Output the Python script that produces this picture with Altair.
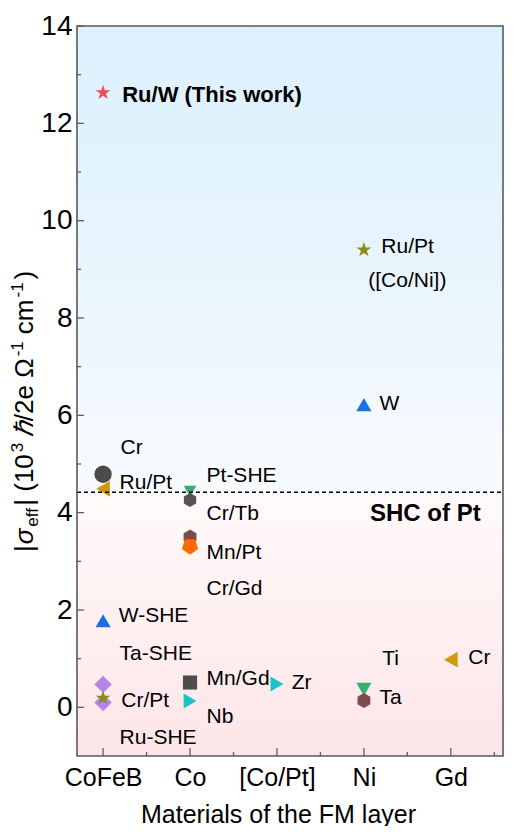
import altair as alt
import pandas as pd

# ---------------- data ----------------
categories = ["CoFeB", "Co", "[Co/Pt]", "Ni", "Gd"]

# measured points: FM layer, |sigma_eff| value, marker style key
pt_fm = ["CoFeB", "CoFeB", "CoFeB", "CoFeB", "CoFeB", "CoFeB", "CoFeB",
         "Co", "Co", "Co", "Co", "Co", "Co",
         "[Co/Pt]",
         "Ni", "Ni", "Ni", "Ni",
         "Gd"]
pt_val = [12.63, 4.79, 4.49, 1.78, 0.47, 0.10, 0.19,
          4.44, 4.26, 3.50, 3.31, 0.51, 0.13,
          0.48,
          9.40, 6.22, 0.37, 0.14,
          0.98]
pt_style = ["star_red", "circle_gray", "tri_left_gold", "tri_up_blue", "diamond_purple", "diamond_purple", "star_olive",
            "tri_down_green", "hex_gray", "hex_brown", "pent_orange", "square_gray", "tri_right_cyan",
            "tri_right_cyan",
            "star_olive_big", "tri_up_blue", "tri_down_green_big", "hex_brown",
            "tri_left_gold"]

# annotation labels (data coordinates)
lab_text = ["Cr", "Ru/Pt", "W-SHE", "Ta-SHE", "Cr/Pt", "Ru-SHE",
            "Pt-SHE", "Cr/Tb", "Mn/Pt", "Cr/Gd", "Mn/Gd", "Nb",
            "Zr", "Ru/Pt", "([Co/Ni])", "W", "Ti", "Ta", "Cr"]
lab_x = [1.20, 1.19, 1.18, 1.19, 1.21, 1.19,
         2.19, 2.19, 2.19, 2.19, 2.19, 2.19,
         3.17, 4.20, 4.05, 4.18, 4.21, 4.18, 5.20]
lab_y = [5.33, 4.61, 1.87, 1.09, 0.14, -0.62,
         4.76, 3.97, 3.17, 2.43, 0.58, -0.19,
         0.49, 9.45, 8.77, 6.24, 0.99, 0.19, 1.01]

bold_text = ["Ru/W (This work)", "SHC of Pt"]
bold_x = [1.22, 4.07]
bold_y = [12.58, 3.97]
bold_size = [22, 24]

shc_pt = 4.42
x_domain = [0.7, 5.6]
y_domain = [-1, 14]
y_major = [0, 2, 4, 6, 8, 10, 12, 14]
y_minor = [1, 3, 5, 7, 9, 11, 13]
x_major = [1, 2, 3, 4, 5]
x_minor = [1.5, 2.5, 3.5, 4.5, 5.5]

# ---------------- styles ----------------
STAR = "M0,-1L0.2245,-0.309L0.951,-0.309L0.363,0.118L0.588,0.809L0,0.382L-0.588,0.809L-0.363,0.118L-0.951,-0.309L-0.2245,-0.309Z"
HEX = "M0,-1L0.866,-0.5L0.866,0.5L0,1L-0.866,0.5L-0.866,-0.5Z"
PENT_DOWN = "M0,1L0.951,0.309L0.588,-0.809L-0.588,-0.809L-0.951,0.309Z"

styles = {
    "star_red": (STAR, "#f24d55", 250),
    "circle_gray": ("circle", "#4b4b4b", 300),
    "tri_left_gold": ("triangle-left", "#cf9b0c", 250),
    "tri_up_blue": ("triangle-up", "#1e6fe0", 230),
    "diamond_purple": ("diamond", "#b784e8", 300),
    "star_olive": (STAR, "#8b8b1c", 230),
    "star_olive_big": (STAR, "#8b8b1c", 250),
    "tri_down_green": ("triangle-down", "#33b06e", 160),
    "tri_down_green_big": ("triangle-down", "#33b06e", 230),
    "hex_gray": (HEX, "#555555", 200),
    "hex_brown": (HEX, "#7d4b4b", 220),
    "pent_orange": (PENT_DOWN, "#ff6a00", 290),
    "square_gray": ("square", "#4d4d4d", 200),
    "tri_right_cyan": ("triangle-right", "#1cc3c6", 220),
}

FONT = "Liberation Sans"
W, H = 426, 730

pts = pd.DataFrame({
    "x": [categories.index(c) + 1 for c in pt_fm],
    "y": pt_val,
    "shape": [styles[s][0] for s in pt_style],
    "color": [styles[s][1] for s in pt_style],
    "size": [styles[s][2] for s in pt_style],
    "order": list(range(len(pt_val))),
})
labs = pd.DataFrame({"t": lab_text, "x": lab_x, "y": lab_y})
bolds = pd.DataFrame({"t": bold_text, "x": bold_x, "y": bold_y, "s": bold_size})

xs = alt.Scale(domain=x_domain, nice=False, zero=False)
ys = alt.Scale(domain=y_domain, nice=False, zero=False)

label_expr = "['', 'CoFeB', 'Co', '[Co/Pt]', 'Ni', 'Gd'][datum.value]"
x_axis = alt.Axis(values=x_major, labelExpr=label_expr, ticks=False, domain=False, grid=False,
                  labelFont=FONT, labelFontSize=25, labelColor="black", labelPadding=9,
                  labelOverlap=False, labelFlush=False,
                  title="Materials of the FM layer", titleFont=FONT, titleFontSize=25,
                  titleFontWeight="normal", titleColor="black", titleX=201, titleY=66,
                  titleBaseline="alphabetic")
y_axis = alt.Axis(values=y_major, ticks=False, domain=False, grid=False,
                  labelFont=FONT, labelFontSize=28, labelColor="black", labelPadding=5,
                  labelOverlap=False, labelFlush=False, title="")


def X(f):
    return alt.X(f, type="quantitative", scale=xs, axis=x_axis)


def Y(f):
    return alt.Y(f, type="quantitative", scale=ys, axis=y_axis)


blue_grad = alt.Gradient(gradient="linear", x1=0, x2=0, y1=0, y2=1,
                         stops=[alt.GradientStop(color="#ddf1fd", offset=0),
                                alt.GradientStop(color="#e6f4fd", offset=0.45),
                                alt.GradientStop(color="#f8fbfe", offset=1)])
pink_grad = alt.Gradient(gradient="linear", x1=0, x2=0, y1=0, y2=1,
                         stops=[alt.GradientStop(color="#fffafa", offset=0),
                                alt.GradientStop(color="#fde5e8", offset=1)])

bg_blue = alt.Chart(pd.DataFrame({"x": [x_domain[0]], "x2": [x_domain[1]], "y": [shc_pt], "y2": [y_domain[1]]})) \
    .mark_rect(fill=blue_grad, strokeWidth=0).encode(x=X("x"), x2="x2", y=Y("y"), y2="y2")
bg_pink = alt.Chart(pd.DataFrame({"x": [x_domain[0]], "x2": [x_domain[1]], "y": [y_domain[0]], "y2": [shc_pt]})) \
    .mark_rect(fill=pink_grad, strokeWidth=0).encode(x=X("x"), x2="x2", y=Y("y"), y2="y2")

points = alt.Chart(pts).mark_point(filled=True, opacity=1, strokeWidth=0).encode(
    x=X("x"), y=Y("y"),
    shape=alt.Shape("shape:N", scale=None),
    color=alt.Color("color:N", scale=None),
    size=alt.Size("size:Q", scale=None),
    order=alt.Order("order:Q"),
)

dash = alt.Chart(pd.DataFrame({"x": [x_domain[0]], "x2": [x_domain[1]], "y": [shc_pt]})) \
    .mark_rule(color="black", strokeWidth=1.5, strokeDash=[4, 3]).encode(x=X("x"), x2="x2", y=Y("y"))

labels = alt.Chart(labs).mark_text(align="left", baseline="middle", font=FONT, fontSize=21, color="black") \
    .encode(x=X("x"), y=Y("y"), text="t:N")
blabels = alt.Chart(bolds).mark_text(align="left", baseline="middle", font=FONT, fontWeight="bold", color="black") \
    .encode(x=X("x"), y=Y("y"), text="t:N", size=alt.Size("s:Q", scale=None))

# inward tick marks
yt_major = alt.Chart(pd.DataFrame({"v": y_major})).mark_rule(color="#606060", strokeWidth=1.3) \
    .encode(y=Y("v"), x=alt.value(0), x2=alt.value(7))
yt_minor = alt.Chart(pd.DataFrame({"v": y_minor})).mark_rule(color="#606060", strokeWidth=1.3) \
    .encode(y=Y("v"), x=alt.value(0), x2=alt.value(4))
xt_major = alt.Chart(pd.DataFrame({"v": x_major})).mark_rule(color="#606060", strokeWidth=1.3) \
    .encode(x=X("v"), y=alt.value(H), y2=alt.value(H - 8))
xt_minor = alt.Chart(pd.DataFrame({"v": x_minor})).mark_rule(color="#606060", strokeWidth=1.3) \
    .encode(x=X("v"), y=alt.value(H), y2=alt.value(H - 4))

frame = alt.Chart(pd.DataFrame({"x": [x_domain[0]], "x2": [x_domain[1]], "y": [y_domain[0]], "y2": [y_domain[1]]})) \
    .mark_rect(fillOpacity=0, stroke="#5a5a5a", strokeWidth=1.6).encode(x=X("x"), x2="x2", y=Y("y"), y2="y2")

# y-axis title with sub/superscripts, built from rotated text pieces
# (text, font size, baseline shift, style, extra gap after)
title_pieces = [
    ("|", 26, 0, "normal", 1), ("σ", 26, 0, "italic", 2), ("eff", 17, 5, "normal", 2),
    ("| (10", 26, 0, "normal", 2), ("3", 17, -10, "normal", 6),
    ("ℏ", 26, 0, "italic", 1), ("/2e Ω", 26, 0, "normal", 2), ("-1", 17, -10, "normal", 7),
    ("cm", 26, 0, "normal", 2), ("-1", 17, -10, "normal", 3), (")", 26, 0, "normal", 0),
]
cw = {"|": 0.26, "σ": 0.6, "e": 0.556, "f": 0.278, " ": 0.278, "(": 0.333, ")": 0.333,
      "1": 0.556, "0": 0.556, "3": 0.556, "ℏ": 0.56, "/": 0.278, "2": 0.556, "Ω": 0.75,
      "-": 0.333, "c": 0.5, "m": 0.833}
title_layers = []
pos = 526.0
base_x = -44
for txt, fs, shift, style, gap in title_pieces:
    title_layers.append(
        alt.Chart(pd.DataFrame({"a": [0]})).mark_text(
            text=txt, angle=270, align="left", baseline="alphabetic", font=FONT,
            fontSize=fs, fontStyle=style, color="black"
        ).encode(x=alt.value(base_x + shift), y=alt.value(pos))
    )
    pos -= sum(cw.get(ch, 0.55) for ch in txt) * fs + gap

chart = alt.layer(
    bg_blue, bg_pink, points, dash, labels, blabels,
    yt_major, yt_minor, xt_major, xt_minor, frame, *title_layers
).properties(
    width=W, height=H,
    padding={"left": 69, "top": 18, "right": 13, "bottom": 70},
    autosize=alt.AutoSizeParams(type="none"),
    background="white",
).configure_view(stroke=None)

chart.save("out.html", embed_options={"renderer": "svg", "actions": False})
